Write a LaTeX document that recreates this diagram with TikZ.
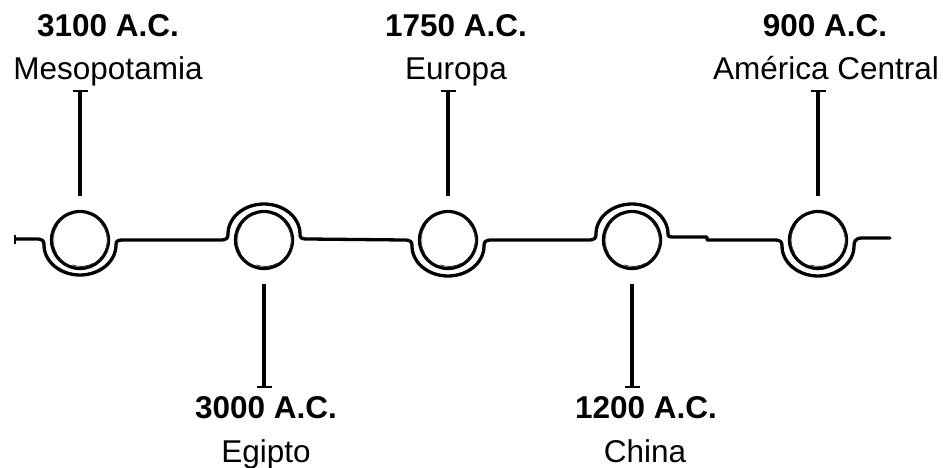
\documentclass[tikz,border=0pt]{standalone}
\usepackage{fontspec}
\setmainfont{Liberation Sans}
\usetikzlibrary{arrows.meta}
\tikzset{
  stroke/.style={line width=3.3pt, line cap=round, line join=round, black},
  dot/.style={circle, draw=black, line width=3.2pt, minimum size=57pt, inner sep=0pt},
  sketch/.style={line width=0.8pt, black!80},
  tickline/.style={line width=3.1pt, -{Bar[width=15pt,line width=2.4pt]}},
  yearlbl/.style={anchor=base, font=\fontsize{31.5}{36}\selectfont\bfseries, inner sep=0pt},
  placelbl/.style={anchor=base, font=\fontsize{31.5}{36}\selectfont, inner sep=0pt}
}
\begin{document}
\begin{tikzpicture}[x=1pt,y=-1pt]
\useasboundingbox (0,0) rectangle (943,468);

% main timeline
\draw[stroke, {Bar[width=9pt,line width=2.4pt]}-]
  (14,239) -- (36,239)
  .. controls (43,239) and (44,241) .. (44,245)
  arc[start angle=180, end angle=0, x radius=36, y radius=30]
  .. controls (116,241) and (117,240) .. (124,240)
  -- (220,240)
  .. controls (227,240) and (228,238) .. (228,234)
  arc[start angle=180, end angle=360, x radius=36, y radius=30]
  .. controls (300,238) and (301,239) .. (308,239)
  -- (404,240)
  .. controls (411,240) and (412,242) .. (412,246)
  arc[start angle=180, end angle=0, x radius=36, y radius=30]
  .. controls (484,242) and (485,240) .. (492,240)
  -- (588,240)
  .. controls (595,240) and (596,238) .. (596,234)
  arc[start angle=180, end angle=360, x radius=36, y radius=30]
  .. controls (668,237) and (669,237) .. (676,237)
  -- (707,237) -- (707,240) -- (774,240)
  .. controls (781,240) and (782,242) .. (782,246)
  arc[start angle=180, end angle=0, x radius=36, y radius=30]
  .. controls (854,242) and (855,238) .. (862,238)
  -- (890,238);

% circles
\node[dot] (c1) at (80,240) {};
\node[dot] (c2) at (264,240) {};
\node[dot] (c3) at (448,240) {};
\node[dot] (c4) at (632,240) {};
\node[dot] (c5) at (818,240) {};

% sketchy second strokes
\foreach \c in {c1,c2,c3,c4,c5}{
  \draw[sketch] ([shift={(1.5,0.5)}]\c.center) ++(-40:26) arc[start angle=-40, end angle=20, radius=26];
  \draw[sketch] ([shift={(-1.5,0)}]\c.center) ++(150:25.5) arc[start angle=150, end angle=215, radius=25.5];
  \draw[sketch] ([shift={(1,1)}]\c.center) ++(60:25.5) arc[start angle=60, end angle=110, radius=25.5];
}

% tick end points
\coordinate (t1) at (80,90);
\coordinate (t2) at (264,388);
\coordinate (t3) at (448,90);
\coordinate (t4) at (632,388);
\coordinate (t5) at (818,90);

\draw[tickline, shorten <=14pt] (c1.north) -- (t1);
\draw[tickline, shorten <=14pt] (c2.south) -- (t2);
\draw[tickline, shorten <=14pt] (c3.north) -- (t3);
\draw[tickline, shorten <=14pt] (c4.south) -- (t4);
\draw[tickline, shorten <=14pt] (c5.north) -- (t5);

% labels
\node[yearlbl] (y1) at (108,37) {3100 A.C.};
\node[placelbl] (p1) at (108,80) {Mesopotamia};
\node[yearlbl] (y2) at (266,418) {3000 A.C.};
\node[placelbl] (p2) at (266,462) {Egipto};
\node[yearlbl] (y3) at (456,37) {1750 A.C.};
\node[placelbl] (p3) at (456,80) {Europa};
\node[yearlbl] (y4) at (646,418) {1200 A.C.};
\node[placelbl] (p4) at (645,462) {China};
\node[yearlbl] (y5) at (825,37) {900 A.C.};
\node[placelbl] (p5) at (826,80) {América Central};
\end{tikzpicture}
\end{document}
